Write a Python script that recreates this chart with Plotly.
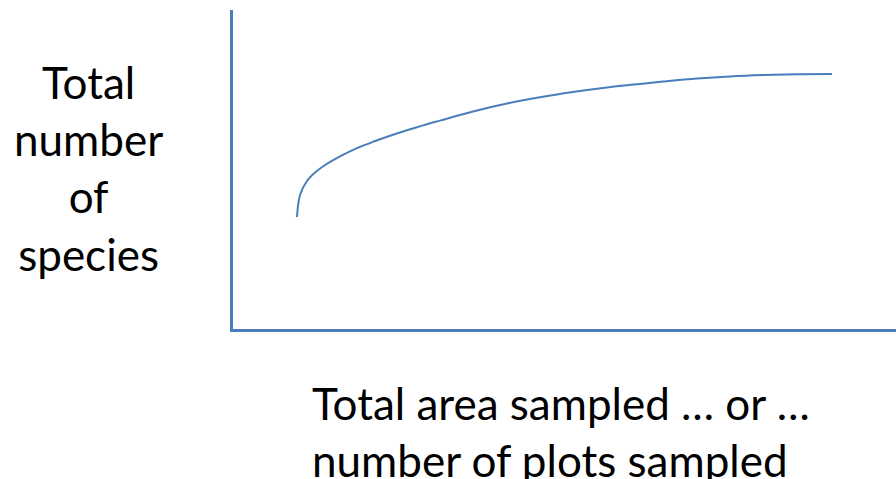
import plotly.graph_objects as go

# Species-area (collector's) curve (arbitrary units 0-10)
effort = [0.965, 1.011, 1.116, 1.237, 1.357, 1.614, 1.870, 2.112, 2.368, 2.624, 2.866, 3.122,
          3.620, 4.133, 4.630, 5.128, 5.641, 6.139, 6.486, 6.998, 7.496, 7.994, 8.507, 9.035]
species = [3.511, 4.201, 4.639, 4.906, 5.094, 5.408, 5.668, 5.868, 6.056, 6.229, 6.382, 6.533,
           6.821, 7.069, 7.266, 7.429, 7.571, 7.683, 7.755, 7.850, 7.918, 7.962, 7.987, 7.994]

y_label = "Total<br>number<br>of<br>species"
x_label = "Total area sampled … or …<br>number of plots sampled"

W, H = 896, 479
L, R, T, B = 233, 0, 10, 150
pw, ph = W - L - R, H - T - B

def px(x):  # page pixel -> paper x
    return (x - L) / pw

def py(y):  # page pixel -> paper y
    return (H - B - y) / ph

blue = "#4a7ebb"
font = "Lato, 'Open Sans', sans-serif"

fig = go.Figure()
fig.add_trace(go.Scatter(x=effort, y=species, mode="lines",
                         line=dict(color=blue, width=2, shape="spline", smoothing=1.0),
                         hoverinfo="skip", showlegend=False))

fig.update_layout(
    width=W, height=H,
    margin=dict(l=L, r=R, t=T, b=B, pad=0),
    paper_bgcolor="white", plot_bgcolor="white",
    showlegend=False,
    xaxis=dict(range=[0, 10], showgrid=False, zeroline=False, showticklabels=False,
               ticks="", showline=True, linecolor=blue, linewidth=3, fixedrange=True),
    yaxis=dict(range=[0, 10], showgrid=False, zeroline=False, showticklabels=False,
               ticks="", showline=True, linecolor=blue, linewidth=3, fixedrange=True),
    annotations=[
        dict(text=y_label, xref="paper", yref="paper", x=px(88), y=py(168),
             xanchor="center", yanchor="middle", showarrow=False, align="center",
             font=dict(family=font, size=44, color="black")),
        dict(text=x_label, xref="paper", yref="paper", x=px(561), y=py(431),
             xanchor="center", yanchor="middle", showarrow=False, align="left",
             font=dict(family=font, size=44, color="black")),
    ],
)

fig.write_html(
    "out.html",
    config={"displayModeBar": False},
    post_script="document.body.style.margin='0px';document.body.style.overflow='hidden';",
)
